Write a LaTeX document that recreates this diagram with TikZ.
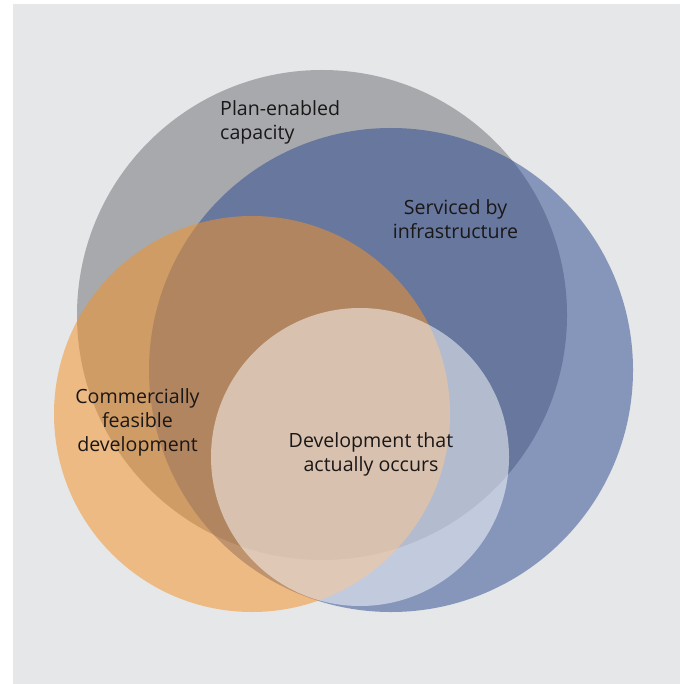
\documentclass[tikz,border=0pt]{standalone}
\usepackage{fontspec}
\setmainfont{Open Sans}
\definecolor{panel}{HTML}{E6E7E8}
\definecolor{cgray}{HTML}{A7A9AC}
\definecolor{cblue}{HTML}{284790}
\definecolor{corange}{HTML}{F39228}
\definecolor{ctext}{HTML}{1A1718}
\tikzset{
  venn/.style={circle, inner sep=0pt, outer sep=0pt, draw=none},
  lbl/.style={text=ctext, font=\fontsize{19.6}{24}\selectfont, inner sep=0pt, align=center},
}
\begin{document}
\begin{tikzpicture}[x=1pt,y=-1pt]
\useasboundingbox (0,0) rectangle (680,684);
\fill[panel] (13,4) rectangle (680,684);
\node[venn, fill=cgray, minimum size=490pt] (plan) at (322,315) {};
\node[venn, fill=cblue, fill opacity=0.5, minimum size=484pt] (serv) at (391,370) {};
\node[venn, fill=corange, fill opacity=0.53, minimum size=396pt] (comm) at (252,414) {};
\node[venn, fill=white, fill opacity=0.5, minimum size=298pt] (dev) at (360,457) {};
\node[lbl, align=left, anchor=west] (tplan) at (220,122) {Plan-enabled\\capacity};
\node[lbl] (tserv) at (455.5,219.5) {Serviced by\\infrastructure};
\node[lbl] (tcomm) at (137.5,422) {Commercially\\feasible\\development};
\node[lbl] (tdev) at (371,454) {Development that\\actually occurs};
\end{tikzpicture}
\end{document}
